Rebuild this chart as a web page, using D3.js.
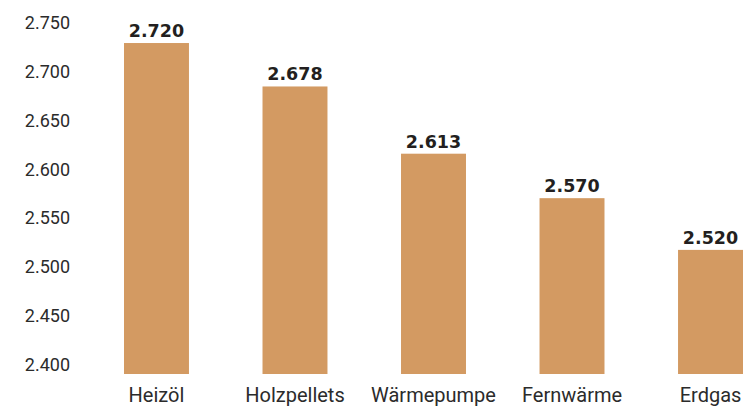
<!DOCTYPE html>
<html>
<head>
<meta charset="utf-8">
<script src="https://cdn.jsdelivr.net/npm/d3@7"></script>
<style>
  body { margin: 0; background: #fff; }
  .tick-label { font-family: Roboto, sans-serif; font-size: 18px; fill: #2b2b2b; }
  .cat-label { font-family: Roboto, sans-serif; font-size: 20px; fill: #2b2b2b; }
  .val-label { font-family: "DejaVu Sans", sans-serif; font-weight: bold; font-size: 17.5px; fill: #231f20; }
</style>
</head>
<body>
<script>
// donnees du graphique
var categories = ["Heizöl", "Holzpellets", "Wärmepumpe", "Fernwärme", "Erdgas"];
var values = [2720, 2678, 2613, 2570, 2520];
var ticks = [2400, 2450, 2500, 2550, 2600, 2650, 2700, 2750];

var width = 748, height = 407;

var svg = d3.select("body").append("svg")
    .attr("width", width)
    .attr("height", height);

// format allemand : 2.720
var de = d3.formatLocale({ decimal: ",", thousands: ".", grouping: [3], currency: ["", " €"] });
var fmt = de.format(",");

var x = d3.scaleBand()
    .domain(categories)
    .range([124, 743])
    .paddingInner(0.531)
    .paddingOuter(0);

// echelle des barres
var y = d3.scaleLinear()
    .domain([2400, 2750])
    .range([374, 12]);

// echelle des libelles de l'axe (un peu decalee dans l'original)
var yLab = d3.scaleLinear()
    .domain([2400, 2750])
    .range([371, 29]);

// axe gauche, texte seulement
svg.append("g").selectAll("text")
    .data(ticks)
    .enter().append("text")
    .attr("class", "tick-label")
    .attr("x", 70)
    .attr("y", function(d) { return yLab(d); })
    .attr("text-anchor", "end")
    .text(function(d) { return fmt(d); });

// barres
svg.append("g").selectAll("rect")
    .data(values)
    .enter().append("rect")
    .attr("x", function(d, i) { return x(categories[i]); })
    .attr("y", function(d) { return y(d); })
    .attr("width", x.bandwidth())
    .attr("height", function(d) { return y(2400) - y(d); })
    .attr("fill", "#d39a62");

// valeurs au-dessus des barres
svg.append("g").selectAll("text")
    .data(values)
    .enter().append("text")
    .attr("class", "val-label")
    .attr("x", function(d, i) { return x(categories[i]) + x.bandwidth() / 2; })
    .attr("y", function(d) { return y(d) - 6; })
    .attr("text-anchor", "middle")
    .text(function(d) { return fmt(d); });

// categories en bas
svg.append("g").selectAll("text")
    .data(categories)
    .enter().append("text")
    .attr("class", "cat-label")
    .attr("x", function(d) { return x(d) + x.bandwidth() / 2; })
    .attr("y", 402)
    .attr("text-anchor", "middle")
    .text(function(d) { return d; });
</script>
</body>
</html>
